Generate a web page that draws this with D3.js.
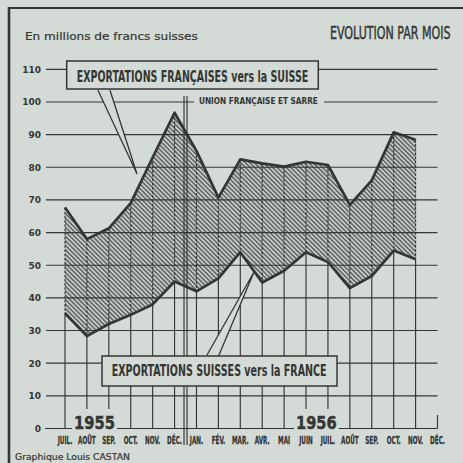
<!DOCTYPE html>
<html>
<head>
<meta charset="utf-8">
<script src="https://cdn.jsdelivr.net/npm/d3@7"></script>
<style>
  html, body { margin: 0; padding: 0; background: #d4dbd6; }
  svg { display: block; }
</style>
</head>
<body>
<svg id="chart" width="463" height="463"></svg>
<script>
// juillet 1955 -> decembre 1956, one entry per month column
const months = ["JUIL.", "AOÛT", "SEP.", "OCT.", "NOV.", "DÉC.",
  "JAN.", "FÉV.", "MAR.", "AVR.", "MAI", "JUIN", "JUIL.", "AOÛT", "SEP.", "OCT.", "NOV.", "DÉC."];
const years = ["1955", "1956"];
const y_ticks = [0, 10, 20, 30, 40, 50, 60, 70, 80, 90, 100, 110];

// millions de francs suisses, juil. 1955 -> nov. 1956
const fr_to_ch = [67.7, 58, 61.3, 69, 83, 96.7, 85, 70.7, 82.4, 81.2, 80.2, 81.7, 80.7, 68.5, 76, 90.7, 88.4];
const ch_to_fr = [35.3, 28.3, 32, 34.8, 38, 45, 42, 46, 54, 44.7, 48.3, 54, 51, 43, 46.7, 54.5, 51.8];

const W = 463, H = 463;
const bg = "#d4dbd6";
const ink = "#343634";
const cond = "'DejaVu Sans Condensed', 'Liberation Sans Narrow', sans-serif";
const round = "'DejaVu Sans', 'Noto Sans', sans-serif";

const x = d3.scaleLinear().domain([0, months.length - 1]).range([65, 437.5]);
const y = d3.scaleLinear().domain([0, 110]).range([428.5, 69.3]);
const grid_x0 = 46, grid_x1 = x(months.length - 1);

const svg = d3.select("#chart");
svg.append("rect").attr("width", W).attr("height", H).attr("fill", bg);

// helper: squeeze a text horizontally so it spans w pixels from (tx, ty)
function fit(sel, tx, ty, w) {
  const n = sel.node().getComputedTextLength();
  sel.attr("x", 0).attr("y", 0)
    .attr("transform", `translate(${tx},${ty}) scale(${w / n},1)`);
  return sel;
}

// hatching used in the band between the two series
const pat = svg.append("defs").append("pattern")
  .attr("id", "hatch")
  .attr("patternUnits", "userSpaceOnUse")
  .attr("width", 3.2).attr("height", 3.2)
  .attr("patternTransform", "rotate(-45)");
pat.append("rect").attr("width", 3.2).attr("height", 3.2).attr("fill", "#c6ccc7");
pat.append("line")
  .attr("x1", 0.8).attr("y1", -1).attr("x2", 0.8).attr("y2", 5)
  .attr("stroke", "#4c4e4c").attr("stroke-width", 1.25);

// frame (top + left only)
svg.append("line").attr("x1", 8).attr("y1", 8).attr("x2", W).attr("y2", 8)
  .attr("stroke", ink).attr("stroke-width", 2.2);
svg.append("line").attr("x1", 9).attr("y1", 7).attr("x2", 9).attr("y2", H)
  .attr("stroke", ink).attr("stroke-width", 2.6);

const band = ch_to_fr.map((lo, i) => ({ i, lo, hi: fr_to_ch[i] }));

// band fill
svg.append("path")
  .datum(band)
  .attr("fill", "url(#hatch)")
  .attr("d", d3.area().x(d => x(d.i)).y0(d => y(d.lo)).y1(d => y(d.hi)));

// horizontal grid
svg.append("g")
  .selectAll("line")
  .data(y_ticks)
  .join("line")
  .attr("x1", d => (d === 0 ? 45 : grid_x0))
  .attr("x2", grid_x1)
  .attr("y1", d => y(d))
  .attr("y2", d => y(d))
  .attr("stroke", ink)
  .attr("stroke-width", 1.15);

svg.append("g")
  .selectAll("text")
  .data(y_ticks)
  .join("text")
  .attr("x", 41)
  .attr("y", d => y(d) + 3.4)
  .attr("text-anchor", "end")
  .attr("font-family", round)
  .attr("font-weight", "bold")
  .attr("font-size", 9)
  .attr("fill", ink)
  .text(d => d);

// verticals: solid under the lower curve, dashed inside the band
const verts = svg.append("g").attr("stroke", ink).attr("stroke-width", 1.15);
verts.selectAll("line.solid")
  .data(band)
  .join("line")
  .attr("class", "solid")
  .attr("x1", d => x(d.i)).attr("x2", d => x(d.i))
  .attr("y1", d => y(d.lo)).attr("y2", y(0));
verts.selectAll("line.dash")
  .data(band)
  .join("line")
  .attr("class", "dash")
  .attr("stroke-dasharray", "2.6,1.6")
  .attr("x1", d => x(d.i)).attr("x2", d => x(d.i))
  .attr("y1", d => y(d.hi)).attr("y2", d => y(d.lo));
// last month (dec. 1956) has no data, just a tick
verts.append("line")
  .attr("x1", x(months.length - 1)).attr("x2", x(months.length - 1))
  .attr("y1", 415).attr("y2", y(0));

// the two series
const line_hi = d3.line().x(d => x(d.i)).y(d => y(d.hi));
const line_lo = d3.line().x(d => x(d.i)).y(d => y(d.lo));
[line_hi, line_lo].forEach(l => {
  svg.append("path")
    .datum(band)
    .attr("fill", "none")
    .attr("stroke", ink)
    .attr("stroke-width", 2.7)
    .attr("stroke-linejoin", "round")
    .attr("d", l);
});

// separator between 1955 and 1956 (double rule)
const sep_x = (x(5) + x(6)) / 2;
[-1.5, 1.5].forEach(off => {
  svg.append("line")
    .attr("x1", sep_x + off).attr("x2", sep_x + off)
    .attr("y1", 96).attr("y2", 445)
    .attr("stroke", ink).attr("stroke-width", 1.15);
});

// union francaise et sarre, sits in a gap of the 100 rule
svg.append("rect")
  .attr("x", 194).attr("y", y(100) - 6).attr("width", 130).attr("height", 10)
  .attr("fill", bg);
fit(svg.append("text")
  .attr("font-family", cond).attr("font-weight", "bold").attr("font-size", 8.6)
  .attr("fill", ink)
  .text("UNION FRANÇAISE ET SARRE"), 199, 104, 119);

// year labels on the base line
const year_pos = [{ x0: 74, w: 41 }, { x0: 296, w: 40.7 }];
years.forEach((yr, k) => {
  const p = year_pos[k];
  svg.append("rect")
    .attr("x", p.x0 - 2).attr("y", 409).attr("width", p.w + 4).attr("height", 23)
    .attr("fill", bg);
  fit(svg.append("text")
    .attr("font-family", round).attr("font-weight", "bold").attr("font-size", 18.5)
    .attr("fill", ink).attr("stroke", ink).attr("stroke-width", 0.5)
    .text(yr), p.x0, y(0), p.w);
});

// month labels
svg.append("g")
  .selectAll("text")
  .data(months)
  .join("text")
  .attr("transform", (d, i) => `translate(${x(i)},444) scale(0.6,1)`)
  .attr("text-anchor", "middle")
  .attr("font-family", cond)
  .attr("font-weight", "bold")
  .attr("font-size", 10.5)
  .attr("fill", ink)
  .attr("stroke", ink)
  .attr("stroke-width", 0.3)
  .text(d => d);

// callout boxes
function callout(box, base, tip, label, txt) {
  const g = svg.append("g");
  g.append("rect")
    .attr("x", box[0]).attr("y", box[1]).attr("width", box[2]).attr("height", box[3])
    .attr("fill", bg).attr("stroke", ink).attr("stroke-width", 1.5);
  const by = base[2];
  g.append("path")
    .attr("d", `M${base[0]},${by}L${tip[0]},${tip[1]}L${base[1]},${by}Z`)
    .attr("fill", bg);
  g.append("path")
    .attr("d", `M${base[0]},${by}L${tip[0]},${tip[1]}L${base[1]},${by}`)
    .attr("fill", "none").attr("stroke", ink).attr("stroke-width", 1.3)
    .attr("stroke-linejoin", "miter");
  fit(g.append("text")
    .attr("font-family", cond).attr("font-weight", "bold").attr("font-size", 15)
    .attr("fill", ink)
    .text(label), txt[0], txt[1], txt[2]);
}
callout([66.7, 61, 251.6, 28], [98, 110, 90.2], [137, 174],
  "EXPORTATIONS FRANÇAISES vers la SUISSE", [76.7, 81.7, 231.6]);
callout([102, 356, 235, 30], [207, 219, 355], [254, 272],
  "EXPORTATIONS SUISSES vers la FRANCE", [111.7, 376, 215]);

// titles and credit
fit(svg.append("text")
  .attr("font-family", round).attr("font-size", 10.5)
  .attr("fill", ink).attr("stroke", ink).attr("stroke-width", 0.2)
  .text("En millions de francs suisses"), 25, 40, 173);
fit(svg.append("text")
  .attr("font-family", cond).attr("font-size", 18)
  .attr("fill", ink).attr("stroke", ink).attr("stroke-width", 0.45)
  .text("EVOLUTION PAR MOIS"), 330, 39.3, 120.7);
fit(svg.append("text")
  .attr("font-family", round).attr("font-size", 8.5)
  .attr("fill", ink).attr("stroke", ink).attr("stroke-width", 0.2)
  .text("Graphique Louis CASTAN"), 15, 459.5, 115);
</script>
</body>
</html>
